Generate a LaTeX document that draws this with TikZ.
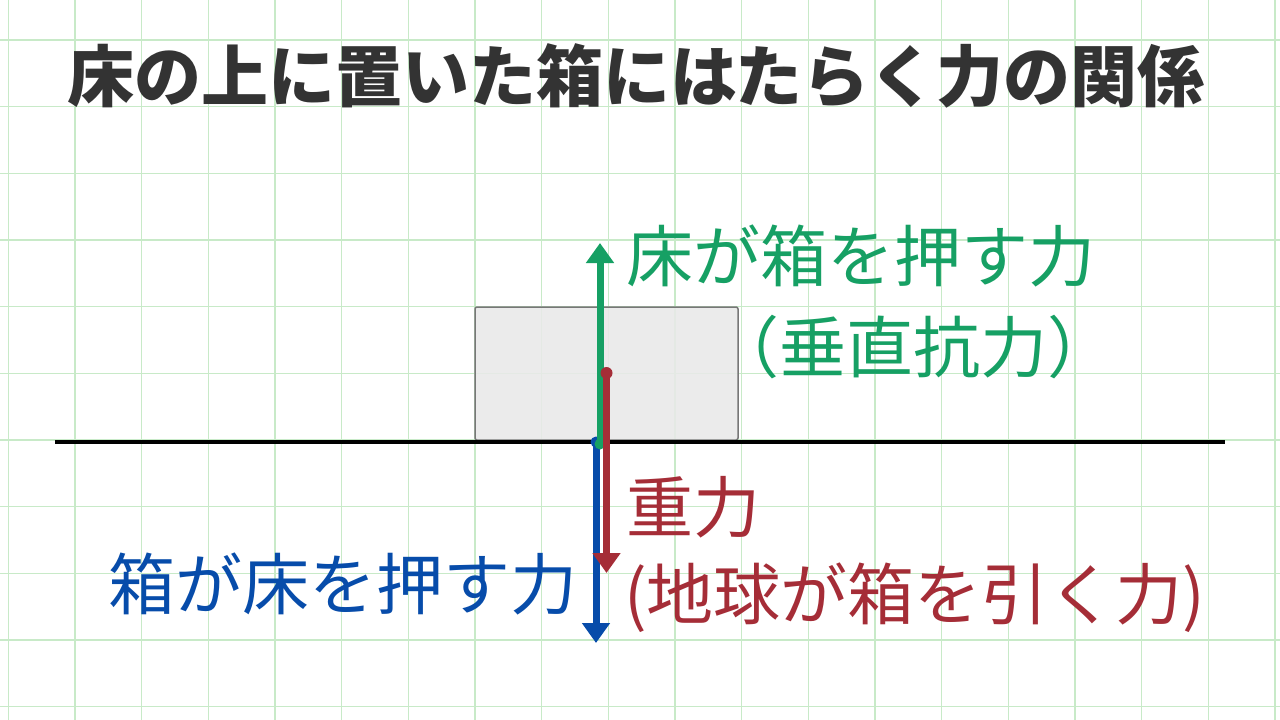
\documentclass[tikz,border=0pt]{standalone}
\usepackage{fontspec}
\usetikzlibrary{arrows.meta}
\newfontfamily\cjk{Noto Sans CJK JP}
\definecolor{gridc}{HTML}{C8EAC8}
\definecolor{titlec}{HTML}{333333}
\definecolor{greenc}{HTML}{16A064}
\definecolor{redc}{HTML}{A52D37}
\definecolor{bluec}{HTML}{074CAA}
\definecolor{boxfill}{HTML}{E9E9E9}
\definecolor{boxline}{HTML}{777777}
\tikzset{
  lbl/.style={inner sep=0pt, anchor=base west, font=\cjk\fontsize{67}{72}\selectfont},
  force/.style={line width=7pt, -{Triangle[width=27pt,length=20pt]}},
}
\begin{document}
\begin{tikzpicture}[x=1pt,y=-1pt]
\useasboundingbox (0,0) rectangle (1280,720);
\fill[white] (0,0) rectangle (1280,720);
% grid
\foreach \i in {0,...,19} {
  \draw[gridc, line width=1.4pt] ({8.33+66.667*\i},0) -- ({8.33+66.667*\i},720);
}
\foreach \j in {0,...,10} {
  \draw[gridc, line width=1.4pt] (0,{40+66.667*\j}) -- (1280,{40+66.667*\j});
}
% title
\node[inner sep=0pt, anchor=base, text=titlec, font=\cjk\bfseries\fontsize{67}{72}\selectfont] (title) at (636,101) {床の上に置いた箱にはたらく力の関係};
% box and floor
\node[draw=boxline, fill=boxfill, fill opacity=0.88, draw opacity=1, line width=1.5pt, rounded corners=2pt,
      minimum width=263pt, minimum height=133pt, inner sep=0pt] (box) at (606.5,373.5) {};
\coordinate (gl) at (55,442);
\coordinate (gr) at (1225,442);
\draw[black, line width=3.5pt] (gl) -- (gr);
% forces
\coordinate (bs) at (596,442);
\coordinate (be) at (596,643);
\coordinate (gs) at (600,444);
\coordinate (ge) at (600,243);
\coordinate (rs) at (606.5,373);
\coordinate (re) at (606.5,573);
\fill[bluec] (bs) circle (5.5pt);
\draw[force, bluec] (bs) -- (be);
\fill[greenc] (gs) circle (5.5pt);
\draw[force, greenc] (gs) -- (ge);
\fill[redc] (rs) circle (6pt);
\draw[force, redc] (rs) -- (re);
% labels
\node[lbl, text=greenc] (g1) at (626,281) {床が箱を押す力};
\node[lbl, text=greenc] (g2) at (712,372) {（垂直抗力）};
\node[lbl, text=redc] (r1) at (626,532) {重力};
\node[lbl, text=redc] (r2) at (624,619) {(地球が箱を引く力)};
\node[lbl, text=bluec] (b1) at (108,609) {箱が床を押す力};
\end{tikzpicture}
\end{document}
